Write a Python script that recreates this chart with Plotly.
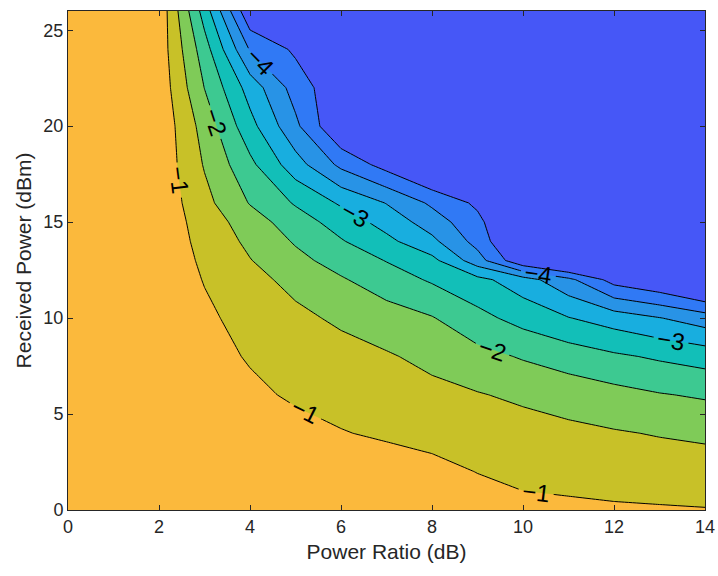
import plotly.graph_objects as go

# Grid (x = Power Ratio in dB, y = Received Power in dBm)
power_ratio_db = list(range(0, 15))
received_power_dbm = [0, 2, 4, 6, 8, 10, 12, 13, 14, 15, 16, 18, 20, 22, 24, 26]

# z values, one row per received power value above
z_rows = [
    [-0.30, -0.40, -0.50, -0.55, -0.60, -0.65, -0.70, -0.72, -0.75, -0.80, -0.885, -0.91, -0.94, -0.96, -0.98],
    [-0.30, -0.42, -0.55, -0.60, -0.68, -0.72, -0.78, -0.79, -0.876, -1.01, -1.115, -1.16, -1.21, -1.24, -1.27],
    [-0.30, -0.45, -0.66, -0.74, -0.82, -0.90, -0.979, -1.06, -1.14, -1.22, -1.30, -1.38, -1.46, -1.53, -1.59],
    [-0.30, -0.50, -0.72, -0.83, -0.936, -1.043, -1.15, -1.257, -1.365, -1.47, -1.59, -1.72, -1.84, -1.97, -2.06],
    [-0.30, -0.50, -0.74, -0.886, -1.027, -1.17, -1.31, -1.45, -1.63, -1.84, -2.045, -2.23, -2.42, -2.57, -2.71],
    [-0.30, -0.50, -0.69, -0.92, -1.15, -1.38, -1.59, -1.78, -1.97, -2.35, -2.68, -2.98, -3.23, -3.48, -3.76],
    [-0.30, -0.50, -0.70, -1.02, -1.34, -1.65, -1.95, -2.26, -2.56, -2.86, -3.28, -3.87, -4.70, -5.00, -5.50],
    [-0.30, -0.50, -0.68, -1.08, -1.48, -1.86, -2.20, -2.52, -2.86, -3.78, -4.95, -5.50, -5.50, -5.50, -5.50],
    [-0.30, -0.50, -0.68, -1.145, -1.61, -2.05, -2.46, -2.87, -3.38, -4.18, -5.30, -5.50, -5.50, -5.50, -5.50],
    [-0.30, -0.50, -0.68, -1.21, -1.76, -2.26, -2.71, -3.19, -3.74, -4.36, -5.30, -5.50, -5.50, -5.50, -5.50],
    [-0.30, -0.50, -0.64, -1.35, -2.03, -2.55, -3.07, -3.52, -4.09, -4.60, -5.30, -5.50, -5.50, -5.50, -5.50],
    [-0.30, -0.50, -0.64, -1.54, -2.38, -3.29, -4.12, -4.70, -5.30, -5.50, -5.50, -5.50, -5.50, -5.50, -5.50],
    [-0.30, -0.50, -0.62, -1.70, -2.83, -3.89, -5.03, -5.50, -5.50, -5.50, -5.50, -5.50, -5.50, -5.50, -5.50],
    [-0.30, -0.50, -0.66, -2.01, -3.21, -4.21, -4.92, -5.50, -5.50, -5.50, -5.50, -5.50, -5.50, -5.50, -5.50],
    [-0.30, -0.50, -0.69, -2.275, -4.04, -4.59, -5.50, -5.50, -5.50, -5.50, -5.50, -5.50, -5.50, -5.50, -5.50],
    [-0.30, -0.50, -0.625, -2.727, -4.95, -5.30, -5.50, -5.50, -5.50, -5.50, -5.50, -5.50, -5.50, -5.50, -5.50],
]

# band colours from lowest (< -4.5) to highest (> -1)
band_colors = ["#4657F7", "#3079F5", "#2893E6", "#18AEDF", "#12BFB8",
               "#3DC991", "#7FCB58", "#C8C128", "#FBB93C"]

x_ticks = [0, 2, 4, 6, 8, 10, 12, 14]
y_ticks = [0, 5, 10, 15, 20, 25]

n = len(band_colors)
colorscale = [[i / (n - 1), c] for i, c in enumerate(band_colors)]

FONT = "Liberation Sans, Arial, Helvetica, sans-serif"
AX = "#262626"

fig = go.Figure()
fig.add_trace(go.Contour(
    x=power_ratio_db, y=received_power_dbm, z=z_rows,
    autocontour=False,
    contours=dict(start=-4.5, end=-1, size=0.5, coloring="fill", showlines=False),
    colorscale=colorscale, showscale=False,
    line=dict(width=0, smoothing=0), hoverinfo="skip",
))
# half-step contour lines (no labels)
fig.add_trace(go.Contour(
    x=power_ratio_db, y=received_power_dbm, z=z_rows,
    autocontour=False,
    contours=dict(start=-4.5, end=-1.5, size=1, coloring="none"),
    showscale=False, line=dict(color="black", width=1, smoothing=0), hoverinfo="skip",
))
# integer contour lines with labels; levels above the data (0 .. 38) draw nothing,
# they only make plotly place labels more densely along each line
fig.add_trace(go.Contour(
    x=power_ratio_db, y=received_power_dbm, z=z_rows,
    autocontour=False,
    contours=dict(start=-4, end=38, size=1, coloring="none", showlabels=True,
                  labelfont=dict(size=24, color="black", family=FONT)),
    showscale=False, line=dict(color="black", width=1, smoothing=0), hoverinfo="skip",
))

axis_common = dict(
    ticks="inside", ticklen=5, tickcolor=AX, tickwidth=1,
    showline=True, linecolor=AX, linewidth=1, mirror="ticks",
    showgrid=False, zeroline=False, automargin=False,
    tickfont=dict(size=18, color=AX, family=FONT),
)
fig.update_layout(
    width=718, height=576,
    margin=dict(l=68, r=13, t=11, b=66),
    paper_bgcolor="white", plot_bgcolor="white",
    font=dict(family=FONT, color=AX),
    showlegend=False,
    xaxis=dict(range=[0, 14], tickvals=x_ticks,
               title=dict(text="Power Ratio (dB)", font=dict(size=21, color=AX), standoff=8),
               **axis_common),
    yaxis=dict(range=[0, 26], tickvals=y_ticks,
               title=dict(text="Received Power (dBm)", font=dict(size=21, color=AX), standoff=6),
               **axis_common),
)
fig.write_html("out.html")
